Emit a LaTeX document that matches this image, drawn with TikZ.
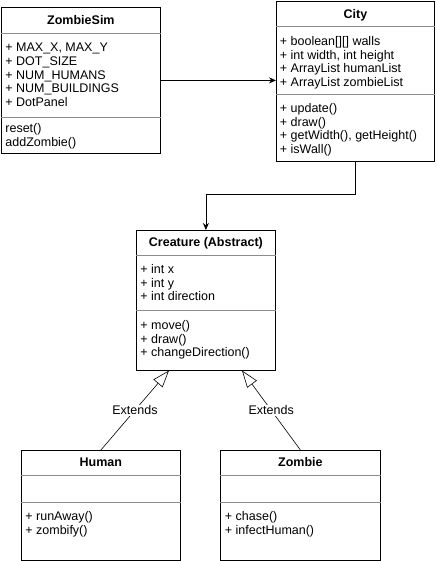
\documentclass[tikz,border=0pt]{standalone}
\usepackage{fontspec}
\setmainfont{Liberation Sans}
\usetikzlibrary{arrows.meta}

\begin{document}
\begin{tikzpicture}[x=1pt,y=-1pt,>={Stealth[length=7pt,width=6pt]},line width=0.8pt,
        class/.style={draw,anchor=north west,inner sep=0pt},
        title/.style={anchor=base,inner sep=0pt,font=\fontsize{12.5}{13.6}\selectfont\bfseries},
        members/.style={anchor=north west,align=left,inner sep=0pt,
          font=\fontsize{12.5}{13.6}\selectfont,execute at begin node=\strut},
        divider/.style={draw=black!45,line width=0.7pt},
        extends/.style={-{Triangle[open,length=17pt,width=12pt]},line width=0.6pt}]

        \useasboundingbox (0,0) rectangle (436,561);

        % ZombieSim
        \node[class,minimum width=159pt,minimum height=146pt] (zombiesim) at (1,7) {};
        \node[title] (zombiesimname) at (zombiesim.north |- 0,24.5) {ZombieSim};
        \draw[divider] (zombiesim.west |- 0,33) -- (zombiesim.east |- 0,33);
        \draw[divider] (zombiesim.west |- 0,117) -- (zombiesim.east |- 0,117);
        \node[members] (zombiesimattr) at (5,43) {+ MAX\_X, MAX\_Y\\+ DOT\_SIZE\\+ NUM\_HUMANS\\+ NUM\_BUILDINGS\\+ DotPanel};
        \node[members] (zombiesimops) at (5,123) {reset()\\addZombie()};

        % City
        \node[class,minimum width=158pt,minimum height=160pt] (city) at (276,1) {};
        \node[title] (cityname) at (city.north |- 0,18.5) {City};
        \draw[divider] (city.west |- 0,26) -- (city.east |- 0,26);
        \draw[divider] (city.west |- 0,94) -- (city.east |- 0,94);
        \node[members] (cityattr) at (279.5,36) {+ boolean[][] walls\\+ int width, int height\\+ ArrayList humanList\\+ ArrayList zombieList};
        \node[members] (cityops) at (279.5,103.3) {+ update()\\+ draw()\\+ getWidth(), getHeight()\\+ isWall()};

        % Creature
        \node[class,minimum width=139pt,minimum height=140pt] (creature) at (136,230) {};
        \node[title] (creaturename) at (creature.north |- 0,246) {Creature (Abstract)};
        \draw[divider] (creature.west |- 0,255) -- (creature.east |- 0,255);
        \draw[divider] (creature.west |- 0,310) -- (creature.east |- 0,310);
        \node[members] (creatureattr) at (140,264.3) {+ int x\\+ int y\\+ int direction};
        \node[members] (creatureops) at (140,320) {+ move()\\+ draw()\\+ changeDirection()};

        % Human
        \node[class,minimum width=159pt,minimum height=110pt] (human) at (21,450) {};
        \node[title] (humanname) at (human.north |- 0,466.5) {Human};
        \draw[divider] (human.west |- 0,475) -- (human.east |- 0,475);
        \draw[divider] (human.west |- 0,502) -- (human.east |- 0,502);
        \node[members] (humanops) at (25,511) {+ runAway()\\+ zombify()};

        % Zombie
        \node[class,minimum width=160pt,minimum height=110pt] (zombie) at (220,450) {};
        \node[title] (zombiename) at (zombie.north |- 0,466.5) {Zombie};
        \draw[divider] (zombie.west |- 0,475) -- (zombie.east |- 0,475);
        \draw[divider] (zombie.west |- 0,502) -- (zombie.east |- 0,502);
        \node[members] (zombieops) at (224.5,511) {+ chase()\\+ infectHuman()};

        % connectors
        \coordinate (humantip) at (169,370.5);
        \coordinate (zombietip) at (242,370.5);
        \draw[->] (zombiesim.east) -- (zombiesim.east -| city.west);
        \draw[->] (city.south) -- ++(0,33) -| (creature.north);
        \path[every node/.style={fill=white,inner sep=1pt,font=\fontsize{12.5}{13.6}\selectfont}]
        (human.north) edge[extends] node {Extends} (humantip)
        (zombie.north) edge[extends] node {Extends} (zombietip);
\end{tikzpicture}
\end{document}
